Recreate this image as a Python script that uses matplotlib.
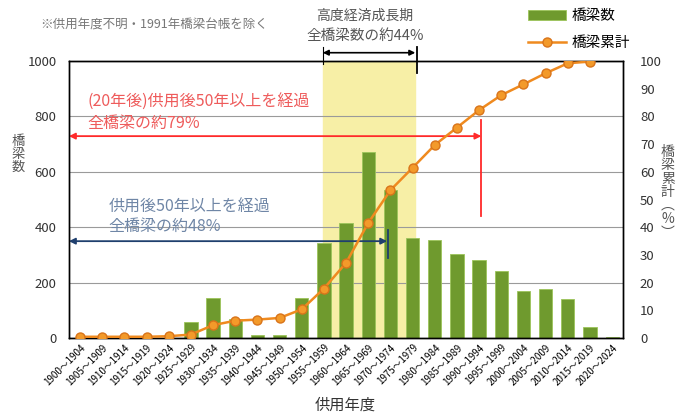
import matplotlib
matplotlib.use('Agg')
import matplotlib.pyplot as plt
import numpy as np

plt.rcParams['font.family'] = ['Noto Sans CJK JP', 'DejaVu Sans']

periods = ['1900～1904', '1905～1909', '1910～1914', '1915～1919', '1920～1924',
           '1925～1929', '1930～1934', '1935～1939', '1940～1944', '1945～1949',
           '1950～1954', '1955～1959', '1960～1964', '1965～1969', '1970～1974',
           '1975～1979', '1980～1984', '1985～1989', '1990～1994', '1995～1999',
           '2000～2004', '2005～2009', '2010～2014', '2015～2019', '2020～2024']
bridges = [0, 0, 0, 0, 0, 60, 145, 70, 12, 12, 145, 345, 415, 670, 535,
           362, 355, 302, 282, 243, 171, 177, 143, 39, 5]
cumulative = [0.5, 0.5, 0.5, 0.5, 0.7, 1.3, 4.7, 6.3, 6.7, 7.3, 10.4, 17.9, 27.2,
              41.6, 53.4, 61.5, 69.7, 76.0, 82.3, 87.7, 91.6, 95.6, 99.2, 99.8, np.nan]

x = np.arange(len(periods))

fig = plt.figure(figsize=(6.76, 4.18), dpi=100)
ax = fig.add_axes([0.102, 0.191, 0.82, 0.663])
ax2 = ax.twinx()

# high growth period band
ax.axvspan(10.95, 15.12, color='#f7efa6', zorder=0)

ax.bar(x, bridges, width=0.6, color='#6f9a2e', edgecolor='#9cc45a', linewidth=0.6,
       zorder=2, label='橋梁数')
ax.set_ylim(0, 1000)
ax.set_xlim(-0.5, len(periods) - 0.5)
ax.set_yticks(range(0, 1001, 200))
ax.grid(axis='y', color='#9a9a9a', linewidth=0.8, zorder=1)
ax.set_axisbelow(True)
ax.set_xticks(x)
ax.set_xticklabels(periods, rotation=45, ha='right', rotation_mode='anchor', fontsize=7)
ax.tick_params(axis='x', length=0, pad=3)
ax.tick_params(axis='y', length=0, labelsize=9.5, labelcolor='#333333', pad=9)

ax2.plot(x, cumulative, color='#ef8a1f', linewidth=1.8, marker='o', markersize=6.5,
         markerfacecolor='#f39a2a', markeredgecolor='#d9741a', zorder=5, label='橋梁累計')
ax2.set_ylim(0, 100)
ax2.set_yticks(range(0, 101, 10))
ax2.tick_params(axis='y', length=0, labelsize=9.5, labelcolor='#333333', pad=12)

for a in (ax, ax2):
    for s in a.spines.values():
        s.set_color('black')
        s.set_linewidth(1.0)
ax.set_zorder(ax2.get_zorder() - 1)
ax.patch.set_visible(False)

# arrows
ax.annotate('', xy=(-0.5, 729), xytext=(18.1, 729),
            arrowprops=dict(arrowstyle='<|-|>', color='#ff2a2a', lw=1.3,
                            shrinkA=0, shrinkB=0, mutation_scale=9), zorder=6)
ax.plot([18.1, 18.1], [440, 787], color='#ff2a2a', lw=1.3, zorder=6)
ax.text(0.35, 850, '(20年後)供用後50年以上を経過', color='#ee5b5b', fontsize=11.5, va='center')
ax.text(0.35, 775, '全橋梁の約79%', color='#ee5b5b', fontsize=11.5, va='center')

ax.annotate('', xy=(-0.5, 350), xytext=(13.85, 350),
            arrowprops=dict(arrowstyle='<|-|>', color='#1f3f6e', lw=1.3,
                            shrinkA=0, shrinkB=0, mutation_scale=9), zorder=6)
ax.plot([13.9, 13.9], [289, 390], color='#1f3f6e', lw=1.3, zorder=6)
ax.text(1.3, 474, '供用後50年以上を経過', color='#6f86a6', fontsize=11.5, va='center')
ax.text(1.3, 402, '全橋梁の約48%', color='#6f86a6', fontsize=11.5, va='center')

# top annotation above axes
ax.annotate('', xy=(10.95, 1030), xytext=(15.12, 1030),
            arrowprops=dict(arrowstyle='<|-|>', color='black', lw=1.2,
                            shrinkA=0, shrinkB=0, mutation_scale=8),
            annotation_clip=False)
ax.plot([15.2, 15.2], [955, 1050], color='black', lw=1.3, clip_on=False)
ax.plot([10.95, 10.95], [990, 1050], color='black', lw=0.8, clip_on=False)
fig.text(0.54, 0.963, '高度経済成長期', ha='center', va='center', fontsize=10, color='#555555')
fig.text(0.54, 0.913, '全橋梁数の約44%', ha='center', va='center', fontsize=10.5, color='#555555')

fig.text(0.06, 0.94, '※供用年度不明・1991年橋梁台帳を除く', fontsize=9, color='#777777', va='center')

# legend
h1, l1 = ax.get_legend_handles_labels()
h2, l2 = ax2.get_legend_handles_labels()
fig.legend(h1 + h2, l1 + l2, loc='upper left', bbox_to_anchor=(0.762, 1.01),
           frameon=False, fontsize=10.5, labelspacing=0.9, handlelength=2.6,
           handletextpad=0.4)

fig.text(0.027, 0.63, '橋\n梁\n数', ha='center', va='center', fontsize=9.5,
         color='#555555', linespacing=1.0)
fig.text(0.988, 0.54, '橋\n梁\n累\n計\n︵\n%\n︶', ha='center', va='center', fontsize=10,
         color='#555555', linespacing=0.95)
fig.text(0.51, 0.03, '供用年度', ha='center', va='center', fontsize=11, color='#333333')

fig.savefig('out.png', dpi=100)
